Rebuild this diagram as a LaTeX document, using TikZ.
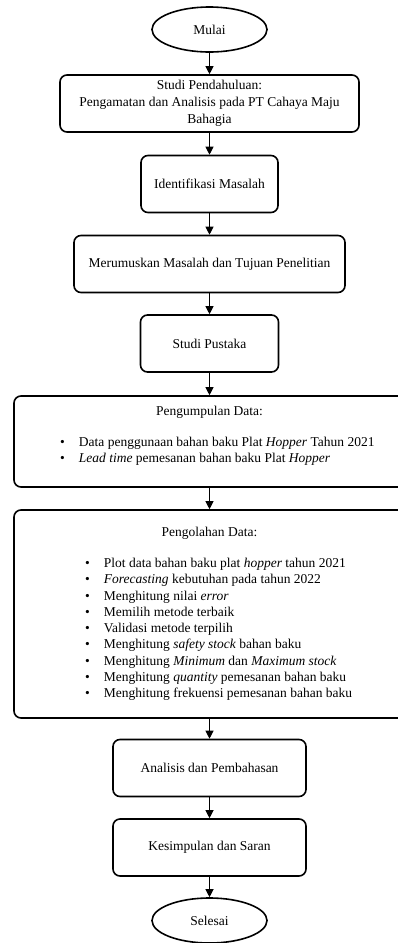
\documentclass[tikz,border=0pt]{standalone}
\usepackage{fontspec}
\setmainfont{Liberation Serif}
\usepackage{tikz}
\usetikzlibrary{shapes.geometric, arrows.meta, positioning}
\tikzset{>={Triangle[length=8pt, width=8pt]}}

\begin{document}
\begin{tikzpicture}[
  x=1pt, y=1pt,
  terminal/.style={ellipse, draw, line width=1.6pt, minimum width=115pt, minimum height=45pt, inner sep=0pt, font=\fontsize{13.5}{16.5}\selectfont},
  process/.style={rectangle, rounded corners=7pt, draw, line width=1.6pt, minimum height=57pt, inner sep=2pt, align=center, font=\fontsize{13.5}{16.8}\selectfont},
  bigbox/.style={rectangle, rounded corners=7pt, draw, line width=1.6pt, minimum width=391pt, inner sep=0pt},
  titletext/.style={font=\fontsize{13.5}{16.5}\selectfont},
  listtext/.style={anchor=north west, inner sep=0pt, font=\fontsize{13.5}{16.25}\selectfont},
  flow/.style={->, line width=1.1pt}
]

% Page frame
\useasboundingbox (0,0) rectangle (398,-943);

% Start
\node[terminal] (mulai) at (209.5,-29.5) {Mulai};

% Preliminary study
\node[process, minimum width=299pt] (pendahuluan) at (209.5,-103.5)
  {Studi Pendahuluan:\\Pengamatan dan Analisis pada PT Cahaya Maju\\Bahagia};

% Problem steps
\node[process, minimum width=137pt] (identifikasi) at (209.5,-184) {Identifikasi Masalah};
\node[process, minimum width=271pt] (rumusan) at (209.5,-264) {Merumuskan Masalah dan Tujuan Penelitian};
\node[process, minimum width=138pt] (pustaka) at (209.5,-343.5) {Studi Pustaka};

% Data collection
\node[bigbox, minimum height=91pt] (pengumpulan) at (209.5,-441.5) {};
\node[titletext] (judulkumpul) at (209.5,-412) {Pengumpulan Data:};
\node[listtext] (listkumpul) at (60,-435)
  {\begin{tabular}{@{}l@{\hspace{14pt}}l@{}}
   \textbullet & Data penggunaan bahan baku Plat \textit{Hopper} Tahun 2021\\
   \textbullet & \textit{Lead time} pemesanan bahan baku Plat \textit{Hopper}
   \end{tabular}};

% Data processing
\node[bigbox, minimum height=208pt] (pengolahan) at (209.5,-614) {};
\node[titletext] (judulolah) at (209.5,-533) {Pengolahan Data:};
\node[listtext] (listolah) at (85,-556)
  {\begin{tabular}{@{}l@{\hspace{14pt}}l@{}}
   \textbullet & Plot data bahan baku plat \textit{hopper} tahun 2021\\
   \textbullet & \textit{Forecasting} kebutuhan pada tahun 2022\\
   \textbullet & Menghitung nilai \textit{error}\\
   \textbullet & Memilih metode terbaik\\
   \textbullet & Validasi metode terpilih\\
   \textbullet & Menghitung \textit{safety stock} bahan baku\\
   \textbullet & Menghitung \textit{Minimum} dan \textit{Maximum stock}\\
   \textbullet & Menghitung \textit{quantity} pemesanan bahan baku\\
   \textbullet & Menghitung frekuensi pemesanan bahan baku
   \end{tabular}};

% Closing steps
\node[process, minimum width=193pt] (analisis) at (209.5,-768) {Analisis dan Pembahasan};
\node[process, minimum width=193pt] (kesimpulan) at (209.5,-847.5) {Kesimpulan dan Saran};

% End
\node[terminal] (selesai) at (209.5,-920.5) {Selesai};

% Flow arrows
\draw[flow] (mulai) -- (pendahuluan);
\draw[flow] (pendahuluan) -- (identifikasi);
\draw[flow] (identifikasi) -- (rumusan);
\draw[flow] (rumusan) -- (pustaka);
\draw[flow] (pustaka) -- (pengumpulan);
\draw[flow] (pengumpulan) -- (pengolahan);
\draw[flow] (pengolahan) -- (analisis);
\draw[flow] (analisis) -- (kesimpulan);
\draw[flow] (kesimpulan) -- (selesai);

\end{tikzpicture}
\end{document}
